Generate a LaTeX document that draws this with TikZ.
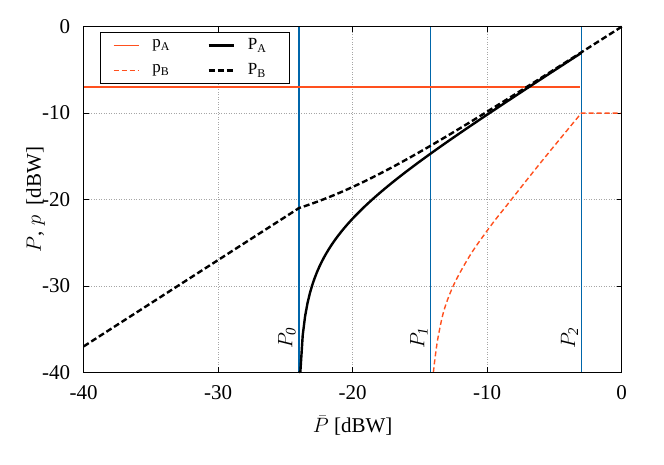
\documentclass[tikz,border=0pt]{standalone}
\usepackage{fontspec}
\setmainfont{Liberation Serif}
\usetikzlibrary{positioning}
\definecolor{vline}{RGB}{0,102,170}
\definecolor{orng}{RGB}{255,80,30}
\tikzset{
  gridline/.style={gray!70,dotted,line width=.5pt},
  bigtxt/.style={font=\fontsize{21}{25}\selectfont},
  legtxt/.style={font=\fontsize{17}{20}\selectfont,anchor=west,inner sep=1pt,text=black},
  pAline/.style={draw=orng,line width=1.5pt},
  pBline/.style={draw=orng,line width=1.4pt,dash pattern=on 5pt off 3pt},
  PAline/.style={black,line width=2.4pt},
  PBline/.style={black,line width=2.4pt,dash pattern=on 6pt off 3pt}
}
\begin{document}
\begin{tikzpicture}
\useasboundingbox (0,0) rectangle (664pt,-465pt);
\begin{scope}[x=13.45pt,y=8.64pt,shift={(621.7pt,-26.7pt)}]
%Grid
\foreach \gx in {-30,-20,-10} \draw[gridline] (\gx,-40) -- (\gx,0);
\foreach \gy in {-30,-20,-10} \draw[gridline] (-40,\gy) -- (0,\gy);
%Ticks and labels
\foreach \gx in {-40,-30,-20,-10,0} {
  \draw[line width=.8pt] (\gx,-40) -- ++(0,5pt) (\gx,0) -- ++(0,-5pt);
  \node[bigtxt,below=10pt] (tx\gx) at (\gx,-40) {\gx};
}
\foreach \gy in {-40,-30,-20,-10,0} {
  \draw[line width=.8pt] (-40,\gy) -- ++(5pt,0) (0,\gy) -- ++(-5pt,0);
  \node[bigtxt,left=10pt] (ty\gy) at (-40,\gy) {\gy};
}
%Vertical markers
\foreach \vx/\vn in {-24/0,-14.2/1,-3/2} {
  \coordinate (top\vn) at (\vx,0);
  \coordinate (bot\vn) at (\vx,-40);
  \draw[draw=vline,line width=1.5pt] (bot\vn) -- (top\vn);
  \node[bigtxt,rotate=90,anchor=south,inner sep=3pt] (lab\vn) at (\vx,-36) {$P_{\mathit{\vn}}$};
}
%Curves
\draw[pAline] (-40,-7) -- (-3.1,-7);
\draw[pBline] plot[smooth,tension=.7] coordinates {(-14.0,-40) (-13.6,-35.5) (-12.9,-31.4)
  (-11.6,-27.3) (-10,-23.6) (-8.2,-20) (-5.8,-15.3) (-3,-10)} -- (0,-10);
\draw[PAline] (-24,-40) -- plot[domain=-23.89:-3,samples=120]
  (\x,{10*ln(exp(2.302585*(\x/10+3))-3.98107)/2.302585-30});
\draw[PBline] (-40,-37) -- (-24,-21) -- plot[domain=-24:-3,samples=60]
  (\x,{10*ln(exp(2.302585*(\x/10+3))+3.98107)/2.302585-30}) -- (0,0);
%Frame
\draw[line width=1.2pt] (-40,-40) rectangle (0,0);
%Legend
\node[draw=black,fill=white,line width=1.2pt,minimum width=189pt,minimum height=51pt,
  anchor=north west,inner sep=0pt] (legend) at ([xshift=16pt,yshift=-5pt]-40,0) {};
\draw[pAline] ([xshift=14pt,yshift=-14pt]legend.north west) -- ++(25pt,0)
  node[legtxt,right=12pt] (kpA) {p\textsubscript{A}};
\draw[pBline] ([xshift=14pt,yshift=-39pt]legend.north west) -- ++(25pt,0)
  node[legtxt,right=12pt] (kpB) {p\textsubscript{B}};
\draw[PAline] ([xshift=109pt,yshift=-14pt]legend.north west) -- ++(25pt,0)
  node[legtxt,right=12pt] (kPA) {P\textsubscript{A}};
\draw[PBline] ([xshift=109pt,yshift=-39pt]legend.north west) -- ++(25pt,0)
  node[legtxt,right=12pt] (kPB) {P\textsubscript{B}};
%Axis titles
\node[bigtxt,below=9pt of tx-20] (xlab) {$\bar{P}$ [dBW]};
\node[bigtxt,rotate=90] (ylab) at ([xshift=-48pt]-40,-20) {$P$, $p$~ [dBW]};
\end{scope}
\end{tikzpicture}
\end{document}
